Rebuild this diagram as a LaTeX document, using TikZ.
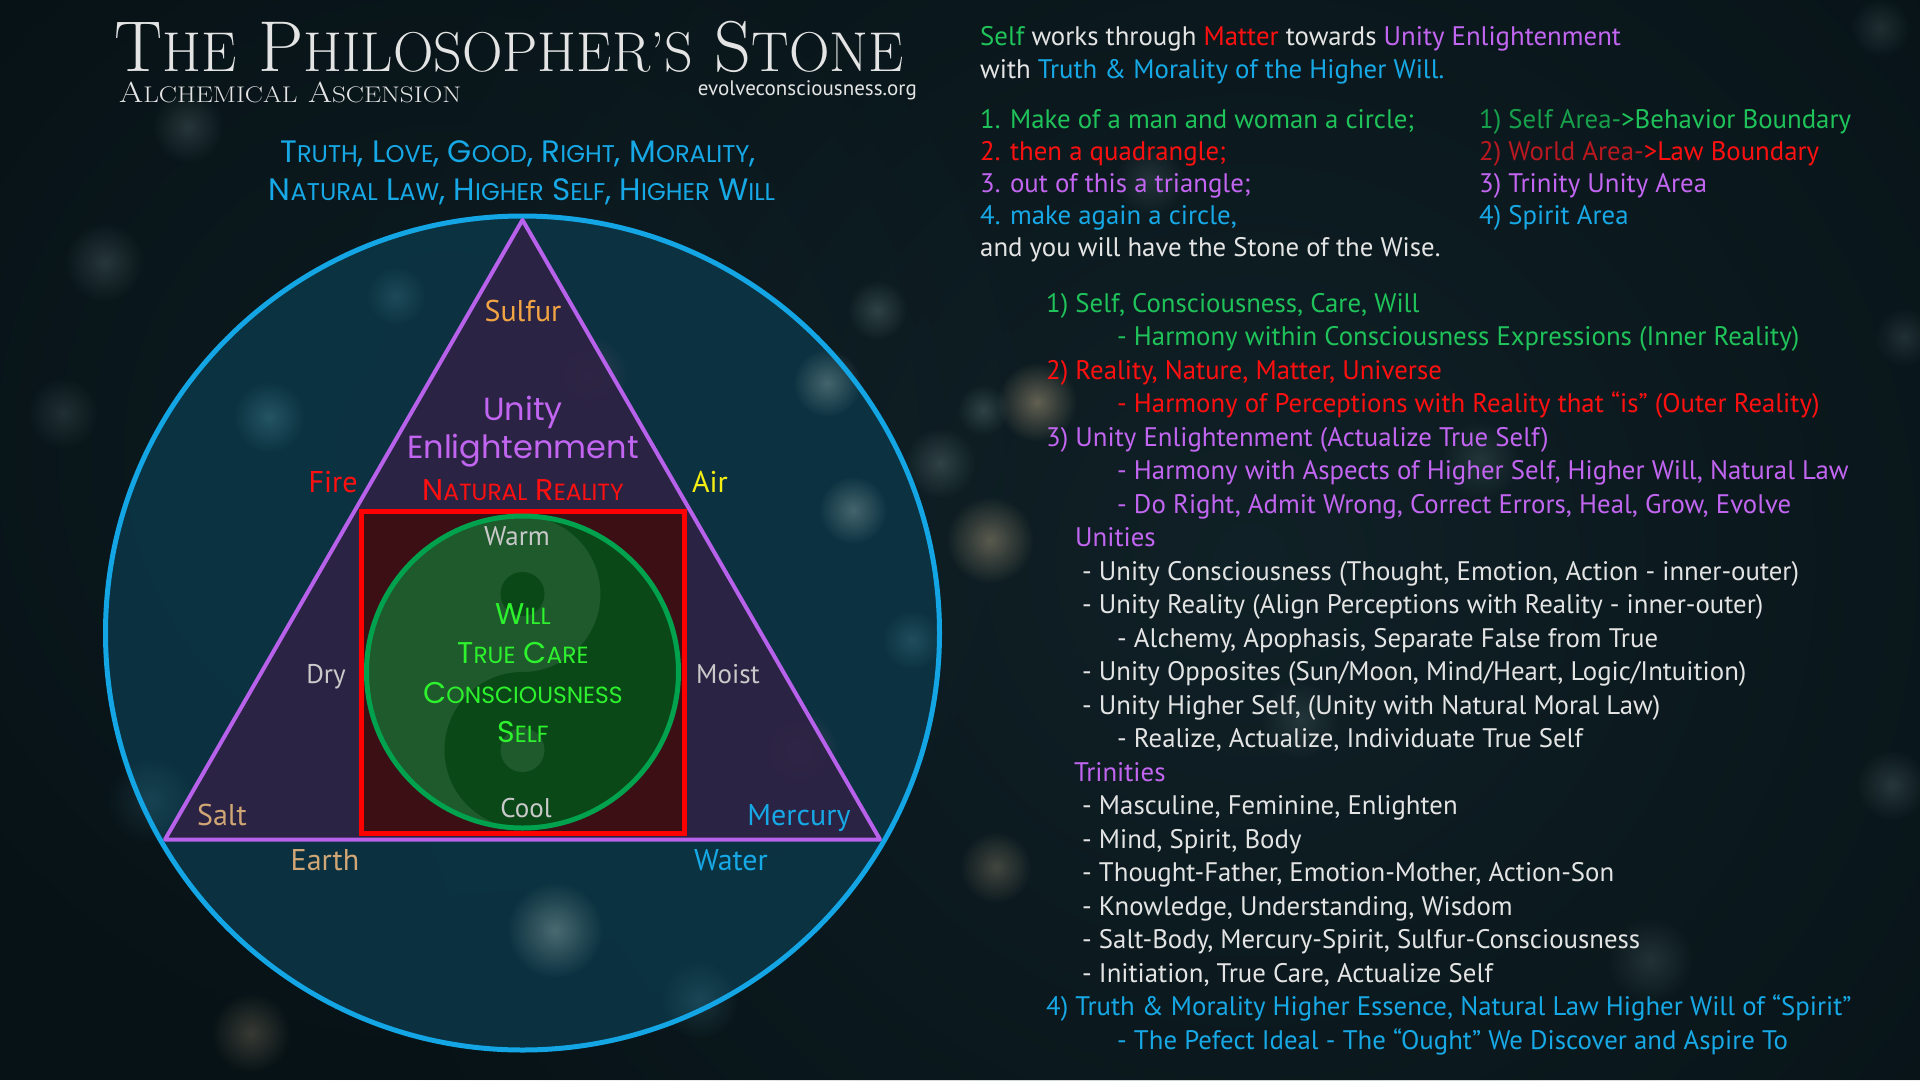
\documentclass[tikz,border=0pt]{standalone}
\usepackage{fontspec}
\usepackage{graphicx}
\usetikzlibrary{fadings}

\newfontfamily\bodyfont{PT Sans}
\newfontfamily\roundfont{Poppins}

\definecolor{nightsky}{HTML}{071216}
\definecolor{skyhaze}{HTML}{1B333B}
\definecolor{spiritfill}{HTML}{0C3545}
\definecolor{trinityfill}{HTML}{2E2244}
\definecolor{worldfill}{HTML}{3C0F15}
\definecolor{yinfill}{HTML}{1E5A2C}
\definecolor{yangfill}{HTML}{0B4818}
\definecolor{spiritline}{HTML}{13A5E4}
\definecolor{trinityline}{HTML}{B862EC}
\definecolor{worldline}{HTML}{FF0000}
\definecolor{selfline}{HTML}{00A24E}
\definecolor{txtwhite}{HTML}{E4E4E4}
\definecolor{txtgreen}{HTML}{1FC35A}
\definecolor{txtdkgreen}{HTML}{17A04C}
\definecolor{txtred}{HTML}{FF1010}
\definecolor{txtdkred}{HTML}{B8181F}
\definecolor{txtpurple}{HTML}{C266F2}
\definecolor{txtcyan}{HTML}{17A8E6}
\definecolor{txtgray}{HTML}{C9C9C9}
\definecolor{willgreen}{HTML}{2DF22D}
\definecolor{sulfurcol}{HTML}{F2A444}
\definecolor{saltcol}{HTML}{D1A675}
\definecolor{aircol}{HTML}{F4EE12}
\definecolor{glowgrey}{HTML}{7E9898}
\definecolor{glowwarm}{HTML}{A8987A}
\definecolor{glowteal}{HTML}{3E7686}
\definecolor{glowpink}{HTML}{7C5676}

\tikzfading[name=glow, inner color=transparent!0, outer color=transparent!100]

% fake small caps: big initial, smaller rest
\makeatletter
\newcommand\fsc[2]{#1{\fontsize{\fpeval{0.78*\f@size}}{\f@baselineskip}\selectfont#2}}
\makeatother

\tikzset{
  element/.style={font=\bodyfont\fontsize{30}{34}\selectfont, inner sep=0pt, anchor=base},
  quality/.style={element, font=\bodyfont\fontsize{27}{30}\selectfont, text=txtgray},
  gothic/.style={font=\roundfont\fontsize{30}{34}\selectfont, inner sep=0pt, anchor=base},
  textline/.style={font=\bodyfont\fontsize{26.8}{30}\selectfont, inner sep=0pt, anchor=base west, text=txtwhite},
}

\begin{document}
\begin{tikzpicture}[x=1pt, y=-1pt]
  \useasboundingbox (0,0) rectangle (1920,1080);

  % night sky
  \fill[nightsky] (0,0) rectangle (1920,1080);
  \fill[skyhaze, opacity=0.45, path fading=glow] (1250,560) circle (1000);
  \fill[skyhaze, opacity=0.3, path fading=glow] (450,450) circle (650);

  % spirit circle
  \fill[spiritfill, opacity=0.9] (522.5,633) circle (417);

  % glows
  \foreach \gx/\gy/\gr/\gc/\go in {827/383/34/glowgrey/0.5, 1037/402/40/glowwarm/0.55,
      990/540/44/glowwarm/0.5, 853/510/34/glowgrey/0.5, 877/310/30/glowgrey/0.3,
      940/463/36/glowgrey/0.3, 983/410/26/glowgrey/0.3, 555/930/48/glowgrey/0.55,
      269/417/36/glowteal/0.5, 396/296/30/glowteal/0.35, 104/262/40/glowgrey/0.25,
      188/127/36/glowgrey/0.25, 63/413/36/glowgrey/0.2, 150/800/44/glowteal/0.25,
      251/1033/40/glowwarm/0.3, 588/375/40/glowpink/0.35, 798/750/40/glowpink/0.45,
      996/867/36/glowwarm/0.35, 912/640/30/glowteal/0.4, 700/1000/40/glowteal/0.3,
      400/600/40/glowteal/0.3, 1150/180/36/glowgrey/0.2, 1480/460/40/glowgrey/0.2,
      1300/720/40/glowgrey/0.2, 1650/960/44/glowgrey/0.2, 1892/785/36/glowgrey/0.25,
      1904/337/30/glowgrey/0.2, 1880/28/30/glowgrey/0.2}
    \fill[\gc, opacity=\go, path fading=glow] (\gx,\gy) circle (\gr);

  % trinity triangle
  \coordinate (apex) at (522.5,220);
  \coordinate (saltcorner) at (165,839.5);
  \coordinate (mercurycorner) at (880,839.5);
  \fill[trinityfill, opacity=0.9] (apex) -- (mercurycorner) -- (saltcorner) -- cycle;

  % world square
  \fill[worldfill] (361,511) rectangle (684,833);

  % self circle with yin yang
  \fill[yinfill] (522.5,672) circle (156);
  \fill[yangfill] (522.5,516) arc[start angle=-90, end angle=90, radius=156]
    arc[start angle=90, end angle=270, radius=78]
    arc[start angle=90, end angle=-90, radius=78] -- cycle;
  \fill[yangfill] (522.5,594) circle (22);
  \fill[yinfill] (522.5,750) circle (22);

  % outlines
  \draw[spiritline, line width=5] (522.5,633) circle (417);
  \draw[trinityline, line width=4, line join=round] (apex) -- (mercurycorner) -- (saltcorner) -- cycle;
  \draw[worldline, line width=5] (361,511) rectangle (684,833);
  \draw[selfline, line width=5] (522.5,672) circle (156);

  % title
  \node[font=\fontsize{72}{76}\selectfont, text=txtwhite, inner sep=0pt, anchor=base west]
    (title) at (114,71) {\fsc{T}{HE} \fsc{P}{HILOSOPHER’S} \fsc{S}{TONE}};
  \node[font=\fontsize{29}{32}\selectfont, text=txtwhite, inner sep=0pt, anchor=base west]
    (subtitle) at (119,102) {\scalebox{1.2}[1]{\fsc{A}{LCHEMICAL} \fsc{A}{SCENSION}}};
  \node[font=\bodyfont\fontsize{21}{24}\selectfont, text=txtwhite, inner sep=0pt, anchor=base east]
    (site) at (917,95) {evolveconsciousness.org};

  \node[gothic, font=\roundfont\fontsize{31}{34}\selectfont, text=txtcyan] (virtues) at (518,162)
    {\fsc{T}{RUTH}, \fsc{L}{OVE}, \fsc{G}{OOD}, \fsc{R}{IGHT}, \fsc{M}{ORALITY},};
  \node[gothic, font=\roundfont\fontsize{31}{34}\selectfont, text=txtcyan] (laws) at (522,200)
    {\fsc{N}{ATURAL} \fsc{L}{AW}, \fsc{H}{IGHER} \fsc{S}{ELF}, \fsc{H}{IGHER} \fsc{W}{ILL}};

  % labels in the stone
  \node[element, text=sulfurcol] (sulfur) at (523,321) {Sulfur};
  \node[gothic, font=\roundfont\fontsize{32}{34}\selectfont, text=txtpurple] (unity) at (523,420) {Unity};
  \node[gothic, font=\roundfont\fontsize{32}{34}\selectfont, text=txtpurple] (enlight) at (523,458) {Enlightenment};
  \node[gothic, text=txtred] (natreal) at (523,500) {\fsc{N}{ATURAL} \fsc{R}{EALITY}};
  \node[element, text=txtred] (fire) at (333,492) {Fire};
  \node[element, text=aircol] (air) at (710,492) {Air};
  \node[quality] (warm) at (517,545) {Warm};
  \node[quality] (cool) at (526,817) {Cool};
  \node[quality] (dry) at (326,683) {Dry};
  \node[quality] (moist) at (728,683) {Moist};
  \node[element, text=saltcol] (salt) at (222,825) {Salt};
  \node[element, text=txtcyan] (mercury) at (799,825) {Mercury};
  \node[element, text=saltcol] (earth) at (325,870) {Earth};
  \node[element, text=txtcyan] (water) at (731,870) {Water};

  \foreach \word/\yb [count=\k] in {{\fsc{W}{ILL}}/624, {\fsc{T}{RUE} \fsc{C}{ARE}}/663,
      {\fsc{C}{ONSCIOUSNESS}}/703, {\fsc{S}{ELF}}/742}
    \node[gothic, text=willgreen] (will\k) at (523,\yb) {\word};

  % right hand text
  \node[textline] (intro1) at (980,45) {\textcolor{txtgreen}{Self} works through
    \textcolor{txtred}{Matter} towards \textcolor{txtpurple}{Unity Enlightenment}};
  \node[textline] (intro2) at (980,78) {with \textcolor{txtcyan}{Truth \& Morality of the Higher Will.}};

  \foreach \tone/\entry [count=\i from 0] in {txtgreen/{1. Make of a man and woman a circle;},
      txtred/{2. then a quadrangle;}, txtpurple/{3. out of this a triangle;},
      txtcyan/{4. make again a circle,}, txtwhite/{and you will have the Stone of the Wise.}}
    \node[textline, text=\tone] (recipe\i) at (980,128+32*\i) {\entry};

  \foreach \entry [count=\i from 0] in {{\textcolor{txtdkgreen}{1) Self Area-}\textcolor{txtgreen}{>Behavior Boundary}},
      {\textcolor{txtdkred}{2) World Area-}\textcolor{txtred}{>Law Boundary}},
      {\textcolor{txtpurple}{3) Trinity Unity Area}}, {\textcolor{txtcyan}{4) Spirit Area}}}
    \node[textline] (area\i) at (1479,128+32*\i) {\entry};

  \foreach \xpos/\tone/\entry [count=\i from 0] in {
      1046/txtgreen/{1) Self, Consciousness, Care, Will},
      1117/txtgreen/{- Harmony within Consciousness Expressions (Inner Reality)},
      1046/txtred/{2) Reality, Nature, Matter, Universe},
      1117/txtred/{- Harmony of Perceptions with Reality that “is” (Outer Reality)},
      1046/txtpurple/{3) Unity Enlightenment (Actualize True Self)},
      1117/txtpurple/{- Harmony with Aspects of Higher Self, Higher Will, Natural Law},
      1117/txtpurple/{- Do Right, Admit Wrong, Correct Errors, Heal, Grow, Evolve},
      1075/txtpurple/{Unities},
      1082/txtwhite/{- Unity Consciousness (Thought, Emotion, Action - inner-outer)},
      1082/txtwhite/{- Unity Reality (Align Perceptions with Reality - inner-outer)},
      1117/txtwhite/{- Alchemy, Apophasis, Separate False from True},
      1082/txtwhite/{- Unity Opposites (Sun/Moon, Mind/Heart, Logic/Intuition)},
      1082/txtwhite/{- Unity Higher Self, (Unity with Natural Moral Law)},
      1117/txtwhite/{- Realize, Actualize, Individuate True Self},
      1074/txtpurple/{Trinities},
      1082/txtwhite/{- Masculine, Feminine, Enlighten},
      1082/txtwhite/{- Mind, Spirit, Body},
      1082/txtwhite/{- Thought-Father, Emotion-Mother, Action-Son},
      1082/txtwhite/{- Knowledge, Understanding, Wisdom},
      1082/txtwhite/{- Salt-Body, Mercury-Spirit, Sulfur-Consciousness},
      1082/txtwhite/{- Initiation, True Care, Actualize Self},
      1046/txtcyan/{4) Truth \& Morality Higher Essence, Natural Law Higher Will of “Spirit”},
      1117/txtcyan/{- The Pefect Ideal - The “Ought” We Discover and Aspire To}}
    \node[textline, text=\tone] (item\i) at (\xpos,312+33.5*\i) {\entry};
\end{tikzpicture}
\end{document}
